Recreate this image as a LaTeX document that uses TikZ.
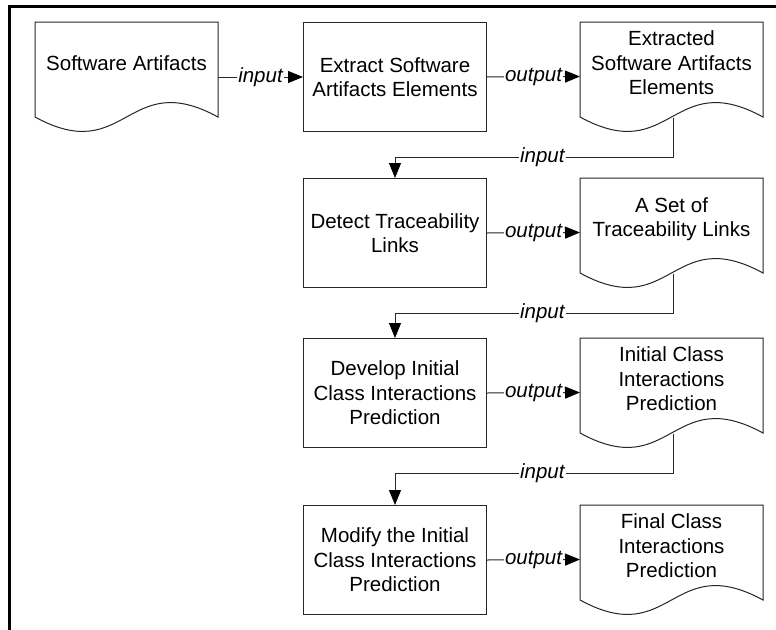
\documentclass[tikz,border=0pt]{standalone}
\usepackage{fontspec}
\setmainfont{Liberation Sans}
\usetikzlibrary{arrows.meta}
\newcommand\myfnt{\fontsize{20.5pt}{24.5pt}\selectfont}
\tikzset{
  ln/.style={draw=black!85, line width=1pt},
  proc/.style={ln, minimum width=183pt, minimum height=109pt, align=center, inner sep=0pt, anchor=north west},
  doctext/.style={align=center, inner sep=0pt},
  conn/.style={ln, -{Triangle[length=15pt,width=12pt,color=black,fill=black]}},
  lab/.style={fill=white, inner sep=1pt, font=\myfnt\itshape},
  frame/.style={draw=black, line width=2.6pt}
}
\newcommand\docat[4]{%
  \draw[ln, line join=miter] (#2,#3) -- (#2+183,#3) -- (#2+183,#3+95)
     .. controls (#2+91.5,#3+45) and (#2+91.5,#3+145) .. (#2,#3+95) -- cycle;
  \node[doctext] (#1) at (#2+91.5,#3+41) {#4};
  \coordinate (#1-out) at (#2+93,#3+95.5);
  \coordinate (#1-e) at (#2+183,#3+55);
  \coordinate (#1-w) at (#2,#3+54.5);
}
\begin{document}
\begin{tikzpicture}[x=1pt,y=-1pt,font=\myfnt]
\useasboundingbox (0,0) rectangle (776,629);
\fill[white] (0,0) rectangle (776,629);
\coordinate (fb) at (9.5,640);
\coordinate (fc) at (9.5,6.5);
\coordinate (fr) at (780,6.5);
\draw[frame] (fb) -- (fc) -- (fr);

% row 1
\docat{sa}{35}{22}{Software Artifacts}
\node[proc] (ex) at (303,22) {Extract Software\\Artifacts Elements};
\docat{exd}{580}{22}{Extracted\\Software Artifacts\\Elements}
% row 2
\node[proc] (dt) at (303,178) {Detect Traceability\\Links};
\docat{tl}{580}{178}{A Set of\\Traceability Links}
% row 3
\node[proc] (dv) at (303,338) {Develop Initial\\Class Interactions\\Prediction};
\docat{ic}{580}{338}{Initial Class\\Interactions\\Prediction}
% row 4
\node[proc] (md) at (303,505) {Modify the Initial\\Class Interactions\\Prediction};
\docat{fc}{580}{505}{Final Class\\Interactions\\Prediction}

% connectors
\draw[conn] (sa-e) -- node[lab]{input} (ex.west);
\draw[conn] (ex.east) -- node[lab]{output} (exd-w);
\draw[conn] (exd-out) -- ++(0,40) -| node[lab,pos=0.235]{input} (dt.north);
\draw[conn] (dt.east) -- node[lab]{output} (tl-w);
\draw[conn] (tl-out) -- ++(0,39.5) -| node[lab,pos=0.235]{input} (dv.north);
\draw[conn] (dv.east) -- node[lab]{output} (ic-w);
\draw[conn] (ic-out) -- ++(0,39.5) -| node[lab,pos=0.235]{input} (md.north);
\draw[conn] (md.east) -- node[lab]{output} (fc-w);
\end{tikzpicture}
\end{document}
